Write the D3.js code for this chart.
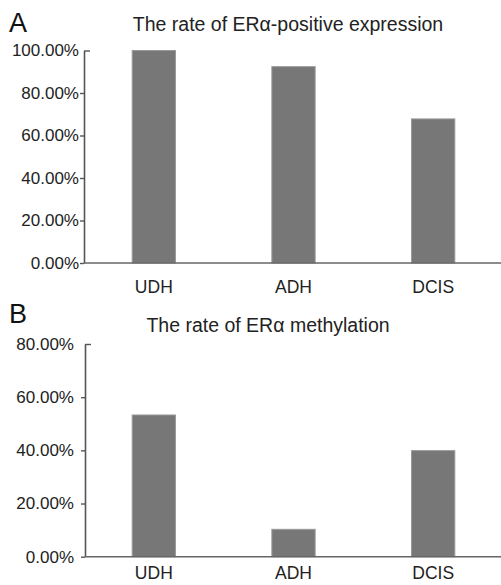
<!DOCTYPE html>
<html>
<head>
<meta charset="utf-8">
<script src="https://cdn.jsdelivr.net/npm/d3@7"></script>
<style>
  body { margin: 0; background: #fff; }
  svg { display: block; font-family: "Liberation Sans", Arial, sans-serif; }
</style>
</head>
<body>
<div id="chart"></div>
<script>
const categories = ["UDH", "ADH", "DCIS"];
const positiveRate = [1.0, 0.924, 0.678];
const methylationRate = [0.533, 0.103, 0.399];
const ticksA = [0, 0.2, 0.4, 0.6, 0.8, 1.0];
const ticksB = [0, 0.2, 0.4, 0.6, 0.8];

const w = 501;
const h = 585;

const svg = d3
  .select("#chart")
  .append("svg")
  .attr("width", w)
  .attr("height", h);

const fmt = d3.format(".2%");

function panel(opts) {
  const x = d3
    .scaleBand()
    .domain(categories)
    .range([84, 503])
    .paddingInner(0.69)
    .paddingOuter(0.345);

  const y = d3.scaleLinear().domain(opts.domain).range(opts.yRange);

  const g = svg.append("g");

  // panel letter + title
  g.append("text")
    .attr("x", 9)
    .attr("y", opts.letterY)
    .attr("font-size", 27)
    .attr("fill", "#111")
    .text(opts.letter);

  g.append("text")
    .attr("x", opts.titleX)
    .attr("y", opts.titleY)
    .attr("text-anchor", "middle")
    .attr("font-size", 19.5)
    .attr("fill", "#222")
    .text(opts.title);

  g.selectAll("rect")
    .data(opts.values)
    .enter()
    .append("rect")
    .attr("x", (d, i) => x(categories[i]))
    .attr("y", (d) => y(d))
    .attr("width", x.bandwidth())
    .attr("height", (d) => y(0) - y(d))
    .attr("fill", "#777")
    .attr("stroke", "#9a9a9a")
    .attr("stroke-width", 1);

  const gy = g
    .append("g")
    .attr("transform", `translate(${opts.axisX},0)`)
    .call(
      d3
        .axisLeft(y)
        .tickValues(opts.ticks)
        .tickSize(4)
        .tickSizeOuter(0)
        .tickPadding(opts.tickPad)
        .tickFormat(fmt)
    );
  gy.select(".domain").attr("stroke", "#555").attr("stroke-width", 1.6);
  gy.selectAll(".tick line").attr("stroke", "#555").attr("stroke-width", 1.4);
  // top tick points inward like the original
  gy.selectAll(".tick line")
    .filter((d) => d === opts.domain[1])
    .attr("x2", 6);
  gy.selectAll(".tick text")
    .attr("font-size", 17)
    .attr("fill", "#222")
    .attr("font-family", "Liberation Sans, Arial, sans-serif");

  // baseline
  g.append("line")
    .attr("x1", opts.axisX)
    .attr("x2", w)
    .attr("y1", y(0))
    .attr("y2", y(0))
    .attr("stroke", "#666")
    .attr("stroke-width", 1.6);

  g.selectAll(".cat")
    .data(categories)
    .enter()
    .append("text")
    .attr("class", "cat")
    .attr("x", (d) => x(d) + x.bandwidth() / 2)
    .attr("y", opts.catY)
    .attr("text-anchor", "middle")
    .attr("font-size", 17.5)
    .attr("fill", "#222")
    .text((d) => d);
}

panel({
  letter: "A",
  letterY: 32,
  title: "The rate of ERα-positive expression",
  titleX: 288,
  titleY: 31,
  values: positiveRate,
  domain: [0, 1],
  yRange: [263, 50.5],
  ticks: ticksA,
  axisX: 84,
  tickPad: 1,
  catY: 293
});

panel({
  letter: "B",
  letterY: 323,
  title: "The rate of ERα methylation",
  titleX: 268,
  titleY: 332,
  values: methylationRate,
  domain: [0, 0.8],
  yRange: [556.7, 344],
  ticks: ticksB,
  axisX: 85,
  tickPad: 7,
  catY: 579
});
</script>
</body>
</html>
